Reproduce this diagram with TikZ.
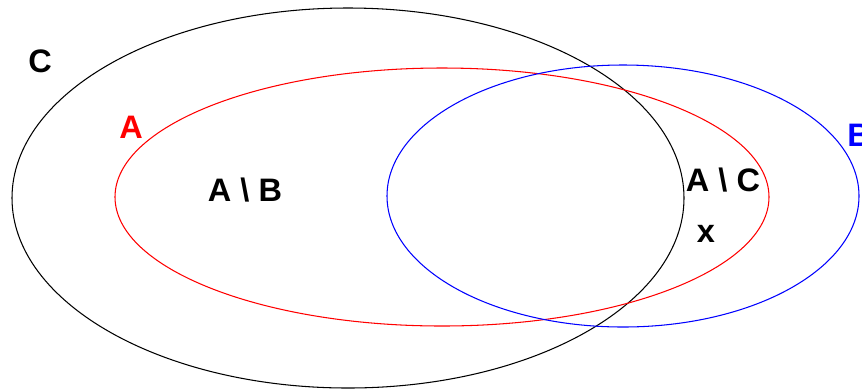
\documentclass[tikz,border=0pt]{standalone}
\usepackage{fontspec}
\setmainfont{Liberation Sans}
\usetikzlibrary{positioning}
\tikzstyle{set} = [
    line width=0.6pt
]
\tikzstyle{lab} = [
    font=\fontsize{18.5}{20}\selectfont\bfseries,
    inner sep=0pt
]
\begin{document}
\begin{tikzpicture}[x = 0.02cm, y = -0.02cm]
\useasboundingbox (0,0) rectangle (862,390);
\draw[set,black] (348,198) ellipse [x radius=336, y radius=190];
\draw[set,red]   (442,197) ellipse [x radius=327, y radius=129];
\draw[set,blue]  (623,196) ellipse [x radius=236, y radius=131];

\node[lab]            (labC)   at (40,61)   {C};
\node[lab,red]        (labA)   at (131,127) {A};
\node[lab,blue,anchor=west] (labB) at (847,135) {B};
\node[lab]            (AminB)  at (245,190) {A \textbackslash{} B};
\node[lab]            (AminC)  at (723,180) {A \textbackslash{} C};
\node[lab]            (elx)    at (706,234) {x};
\end{tikzpicture}
\end{document}
